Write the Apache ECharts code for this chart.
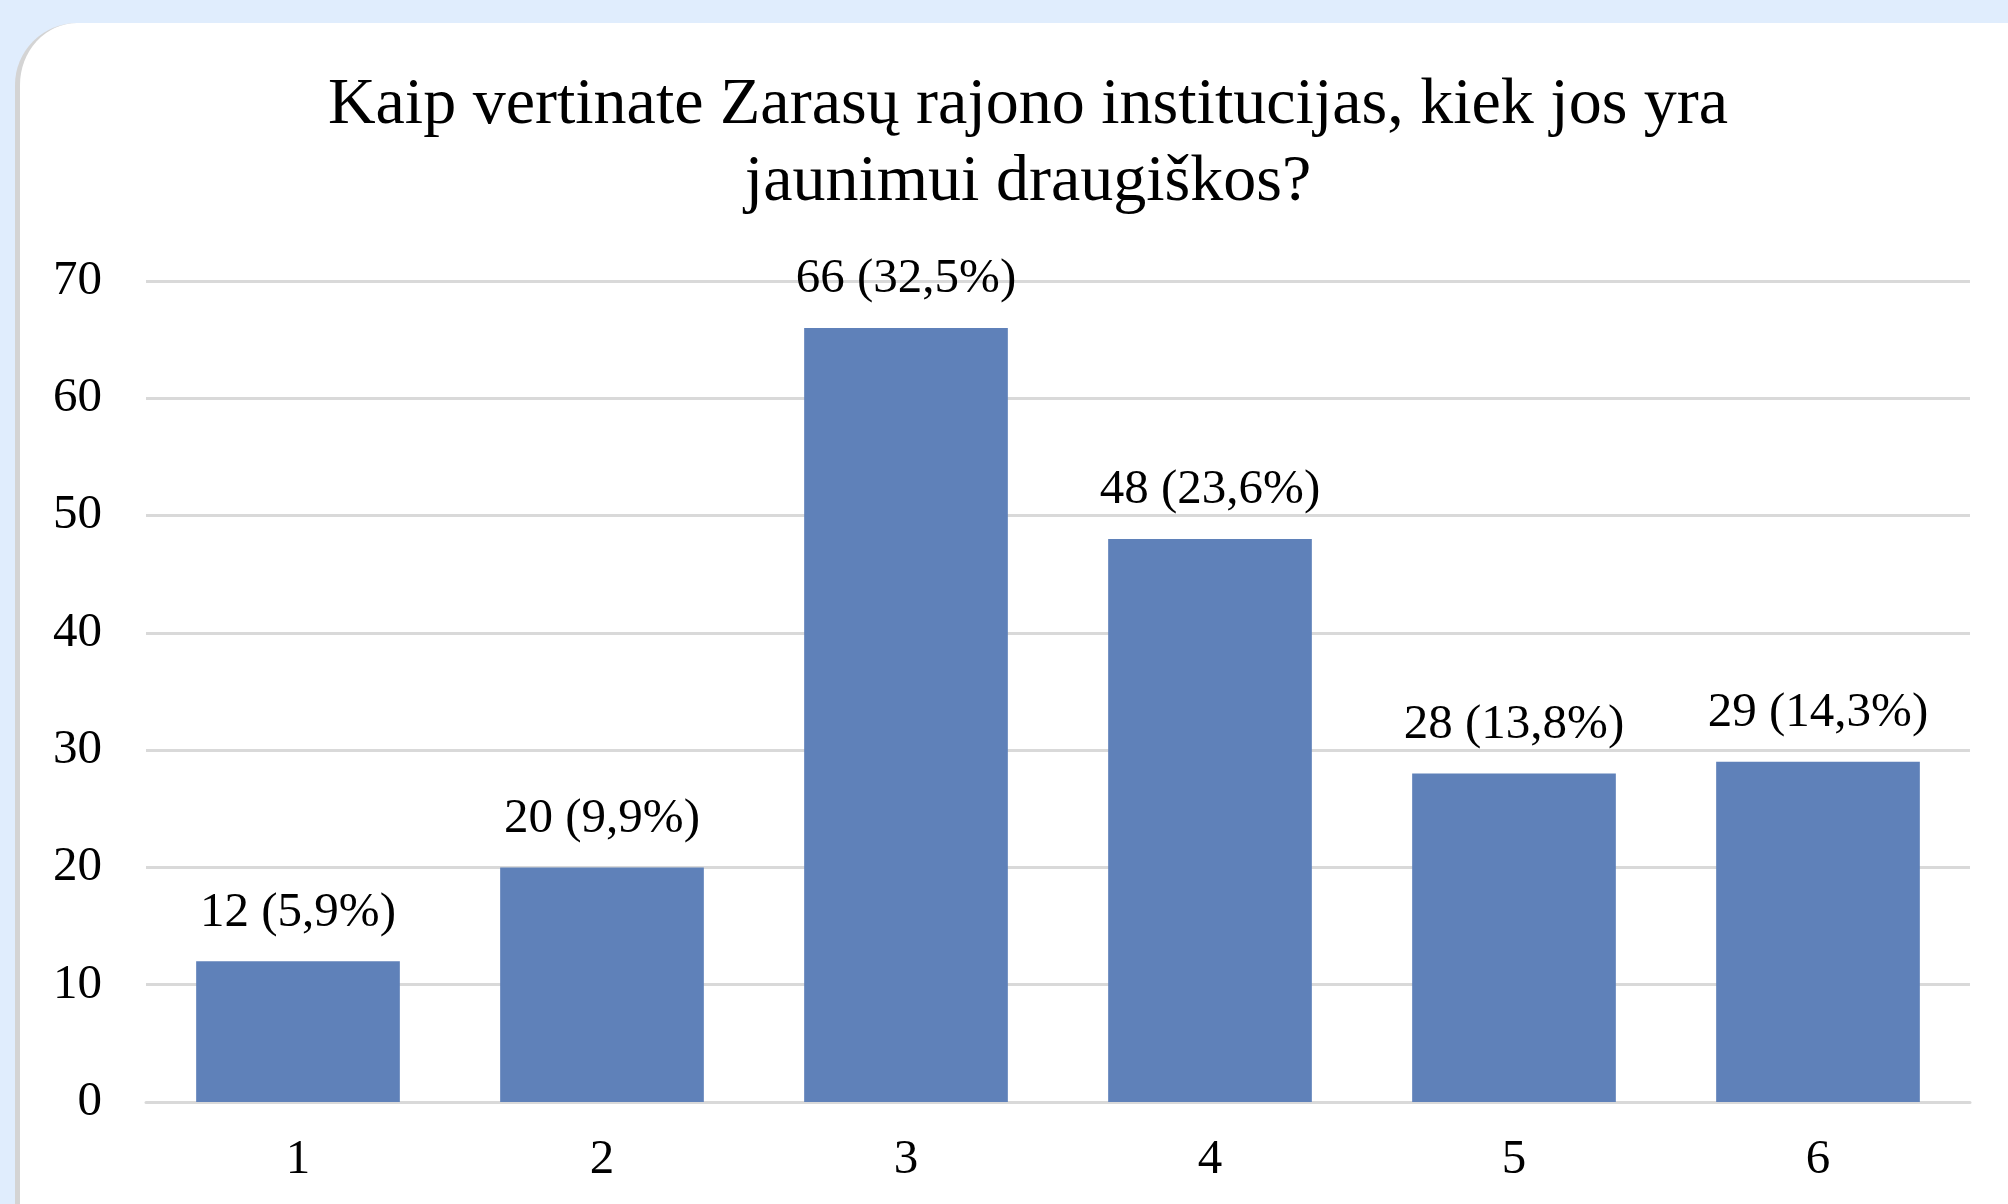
<!DOCTYPE html>
<html>
<head>
<meta charset="utf-8">
<script src="https://cdn.jsdelivr.net/npm/echarts@6/dist/echarts.min.js"></script>
<style>
html,body{margin:0;padding:0;width:2008px;height:1204px;overflow:hidden;background:#E0EDFD;}
#card{position:absolute;left:15px;top:23px;width:2080px;height:1250px;background:#fff;border-radius:62px;border-left:5px solid #d4d4d4;box-sizing:border-box;}
#main{position:absolute;left:0;top:0;width:2008px;height:1204px;}
</style>
</head>
<body>
<div id="card"></div>
<div id="main"></div>
<script>
var categories = ['1','2','3','4','5','6'];
var counts = [12, 20, 66, 48, 28, 29];
var percents = ['5,9','9,9','32,5','23,6','13,8','14,3'];
var yTicks = [0, 70, 10]; // min, max, step
var titleText = 'Kaip vertinate Zarasų rajono institucijas, kiek jos yra\njaunimui draugiškos?';

var myChart = echarts.init(document.getElementById('main'));
var font = 'Liberation Serif, Times New Roman, serif';

var option = {
    backgroundColor: 'transparent',
    title: {
        text: titleText,
        left: 1023,
        top: 62,
        textAlign: 'center',
        textStyle: {
            fontFamily: font,
            fontSize: 66,
            fontWeight: 'normal',
            color: '#000',
            lineHeight: 77
        }
    },
    grid: {
        left: 146,
        right: 38,
        top: 281,
        bottom: 102,
        containLabel: false
    },
    xAxis: {
        type: 'category',
        data: categories,
        axisTick: {show: false},
        axisLine: {show: true, lineStyle: {color: '#D9D9D9', width: 3}},
        axisLabel: {
            fontFamily: font,
            fontSize: 49,
            color: '#000',
            margin: 34
        }
    },
    yAxis: {
        type: 'value',
        min: yTicks[0],
        max: yTicks[1],
        interval: yTicks[2],
        axisLine: {show: false},
        axisTick: {show: false},
        splitLine: {lineStyle: {color: '#D9D9D9', width: 3}},
        axisLabel: {
            fontFamily: font,
            fontSize: 49,
            color: '#000',
            margin: 44
        }
    },
    series: [{
        type: 'bar',
        data: counts,
        barWidth: '67%',
        itemStyle: {color: '#5F81B9'},
        label: {
            show: true,
            position: 'top',
            distance: 24,
            fontFamily: font,
            fontSize: 49,
            color: '#000',
            formatter: function (p) {
                return counts[p.dataIndex] + ' (' + percents[p.dataIndex] + '%)';
            }
        }
    }]
};
myChart.setOption(option);
</script>
</body>
</html>
